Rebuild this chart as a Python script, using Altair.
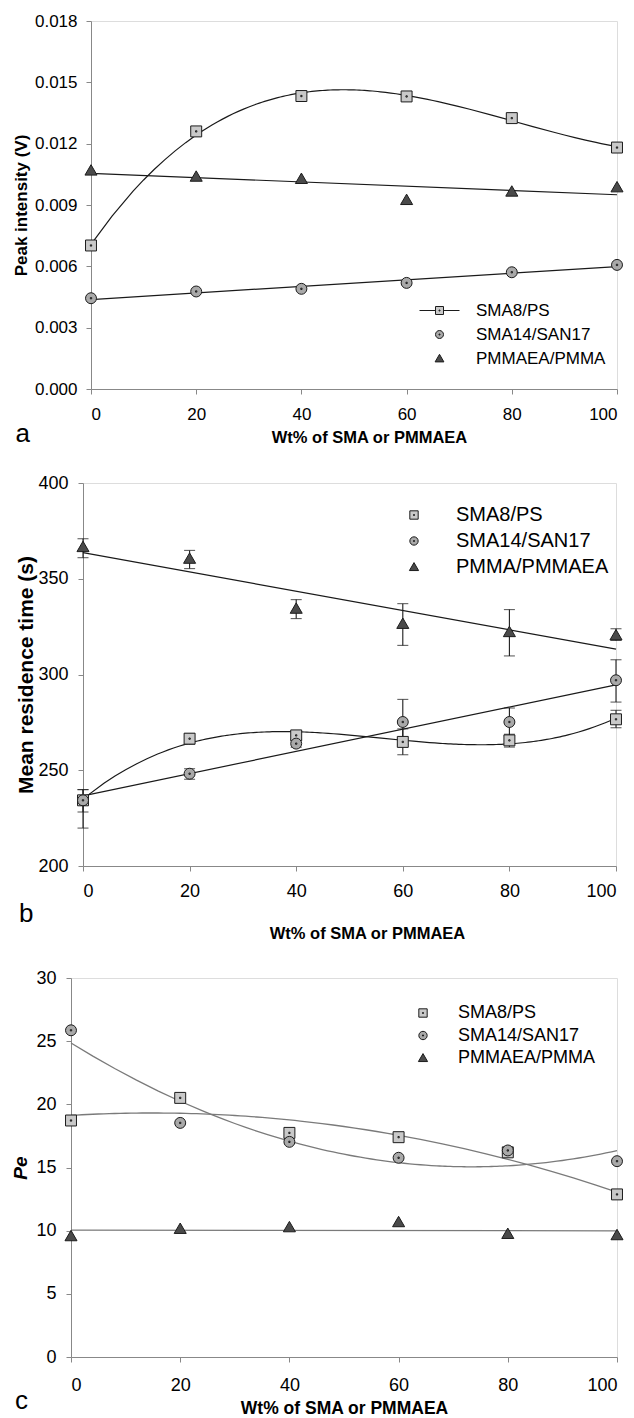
import altair as alt
import pandas as pd

FONT = "Liberation Sans"
EDGE = "#1c1c1c"
FRAME = "#3a3a3a"

# ---------------- data ----------------
wt = [0, 20, 40, 60, 80, 100]
x_ticks = [0, 20, 40, 60, 80, 100]
x_title = "Wt% of SMA or PMMAEA"

names_a = ["SMA8/PS", "SMA14/SAN17", "PMMAEA/PMMA"]
names_b = ["SMA8/PS", "SMA14/SAN17", "PMMA/PMMAEA"]
names_c = ["SMA8/PS", "SMA14/SAN17", "PMMAEA/PMMA"]

# panel a: peak intensity (V)
a_sma8 = [0.00702, 0.01260, 0.01433, 0.01431, 0.01325, 0.01181]
a_sma14 = [0.00444, 0.00477, 0.00490, 0.00519, 0.00571, 0.00607]
a_pmma = [0.01069, 0.01039, 0.01028, 0.00925, 0.00966, 0.00987]
a_yticks = [0.000, 0.003, 0.006, 0.009, 0.012, 0.015, 0.018]

# panel b: mean residence time (s) with error-bar ends
b_sma8 = [234.3, 266.5, 268.2, 264.8, 265.6, 276.6]
b_sma8_lo = [228.2, 263.5, 266.0, 258.1, 262.1, 272.2]
b_sma8_hi = [239.9, 269.1, 270.3, 271.6, 268.8, 281.3]
b_sma14 = [234.3, 248.2, 263.9, 275.2, 275.2, 297.0]
b_sma14_lo = [219.8, 245.3, 262.0, 263.4, 267.9, 285.6]
b_sma14_hi = [239.9, 250.8, 266.0, 287.0, 282.5, 307.7]
b_pmma = [366.6, 360.5, 334.4, 326.5, 322.2, 320.5]
b_pmma_lo = [361.0, 355.3, 329.2, 315.2, 309.7, 317.8]
b_pmma_hi = [370.9, 364.8, 339.1, 337.0, 333.9, 323.9]
b_yticks = [200, 250, 300, 350, 400]

# panel c: Pe
c_sma8 = [18.72, 20.51, 17.74, 17.40, 16.20, 12.87]
c_sma14 = [25.86, 18.53, 17.03, 15.77, 16.35, 15.50]
c_pmma = [9.57, 10.15, 10.28, 10.68, 9.75, 9.65]
c_yticks = [0, 5, 10, 15, 20, 25, 30]

fit_a = [3, 1, 1]
fit_b = [3, 1, 1]
fit_c = [2, 2, 1]

# marker shapes (unit box -1..1), with centre dot
SQ = "M-1,-1H1V1H-1Z M-0.12,-0.12H0.12V0.12H-0.12Z"
CI = "M-1,0A1,1 0 1 1 1,0A1,1 0 1 1 -1,0Z M-0.12,-0.12H0.12V0.12H-0.12Z"
TR = "M0,-1.05L1.1,0.85H-1.1Z"
SQ_LEG = "M-5,0H-1M1,0H5 " + SQ
fills = ["#c9c9c9", "#a9a9a9", "#4a4a4a"]
edges = [EDGE, EDGE, EDGE]


def long(names, series, lo=None, hi=None):
    rows = []
    for k, (n, vals) in enumerate(zip(names, series)):
        for j, (xv, yv) in enumerate(zip(wt, vals)):
            r = {"wt": xv, "val": yv, "series": n}
            if lo is not None:
                r["lo"] = lo[k][j]
                r["hi"] = hi[k][j]
            rows.append(r)
    return pd.DataFrame(rows)


def point_enc(X, Yv, names, shapes, legend):
    return dict(
        x=X, y=Yv,
        shape=alt.Shape("series:N", scale=alt.Scale(domain=names, range=shapes), legend=legend),
        fill=alt.Fill("series:N", scale=alt.Scale(domain=names, range=fills), legend=legend),
        stroke=alt.Stroke("series:N", scale=alt.Scale(domain=names, range=edges), legend=legend),
    )


def build(df, names, orders, line_color, line_w, xaxis, yaxis, ydomain, ytitle,
          legend, leg_shapes, width, height, letter, letter_off, errbars=False):
    X = alt.X("wt:Q", scale=alt.Scale(domain=[0, 100], nice=False, zero=False),
              axis=xaxis, title=x_title)

    def Y(f):
        return alt.Y(f"{f}:Q", scale=alt.Scale(domain=ydomain, nice=False, zero=False),
                     axis=yaxis, title=ytitle)

    base = alt.Chart(df)
    layers = []
    for n, k in zip(names, orders):
        c = base.transform_filter(alt.datum.series == n)
        if k == 1:
            c = c.transform_regression("wt", "val", method="linear", extent=[0, 100])
        else:
            c = c.transform_regression("wt", "val", method="poly", order=k, extent=[0, 100])
        layers.append(c.mark_line(color=line_color, strokeWidth=line_w).encode(x=X, y=Y("val")))
    if errbars:
        layers.append(base.mark_rule(color=EDGE, strokeWidth=1.1).encode(x=X, y=Y("lo"), y2="hi:Q"))
        layers.append(
            base.transform_fold(["lo", "hi"], as_=["end", "v"])
            .mark_tick(orient="horizontal", size=11, thickness=1.1, color=EDGE)
            .encode(x=X, y=Y("v"))
        )
    pt_legend = None if leg_shapes else legend
    layers.append(
        base.mark_point(filled=True, size=120, strokeWidth=1, opacity=1)
        .encode(**point_enc(X, Y("val"), names, [SQ, CI, TR], pt_legend))
    )
    if leg_shapes:
        layers.append(
            base.transform_filter("false")
            .mark_point(filled=True, size=120, strokeWidth=1, opacity=1)
            .encode(**point_enc(X, Y("val"), names, leg_shapes, legend))
        )
    return alt.layer(*layers).resolve_scale(
        shape="independent", fill="independent", stroke="independent"
    ).properties(
        width=width, height=height,
        title=alt.TitleParams(letter, orient="bottom", anchor="start", frame="bounds",
                              baseline="alphabetic", offset=letter_off, fontSize=26,
                              fontWeight="normal", font=FONT, color="black", dx=3),
    )


def leg(x, y, fs, rowpad, lab_off, sym):
    return alt.Legend(orient="none", legendX=x, legendY=y, title=None, labelFontSize=fs,
                      labelFont=FONT, labelColor="black", symbolSize=sym,
                      symbolStrokeWidth=1, rowPadding=rowpad,
                      labelOffset=lab_off, padding=0, symbolOffset=0, labelLimit=400,
                      direction="vertical")


def spacer(w):
    return (
        alt.Chart(pd.DataFrame({"s": [0]}))
        .mark_point(size=0, opacity=0)
        .encode(x=alt.X("s:Q", axis=None), y=alt.Y("s:Q", axis=None))
        .properties(width=w, height=1, view=alt.ViewBackground(stroke="transparent"))
    )


df_a = long(names_a, [a_sma8, a_sma14, a_pmma])
df_b = long(names_b, [b_sma8, b_sma14, b_pmma],
            [b_sma8_lo, b_sma14_lo, b_pmma_lo], [b_sma8_hi, b_sma14_hi, b_pmma_hi])
df_c = long(names_c, [c_sma8, c_sma14, c_pmma])

xa = alt.Axis(values=x_ticks, format="d", tickSize=5, labelPadding=12, labelFontSize=17, grid=False,
              titleFontSize=16.5, titleFontWeight="bold", titlePadding=7, titleX=278)
ya = alt.Axis(values=a_yticks, format=".3f", tickSize=5, labelPadding=9, labelFontSize=17, grid=False,
              titleFontSize=17, titleFontWeight="bold", titlePadding=4)
pa = build(df_a, names_a, fit_a, "#1a1a1a", 1.2, xa, ya, [0, 0.018], "Peak intensity (V)",
           leg(340, 281, 17, 6, 28, 64), [SQ_LEG, CI, TR], 526, 368, "a", -4)

xb = alt.Axis(values=x_ticks, format="d", tickSize=5, labelPadding=11, labelFontSize=18, grid=False,
              titleFontSize=16.5, titleFontWeight="bold", titlePadding=25, titleX=284)
yb = alt.Axis(values=b_yticks, format="d", tickSize=5, labelPadding=10, labelFontSize=18, grid=False,
              titleFontSize=21, titleFontWeight="bold", titlePadding=1)
pb = build(df_b, names_b, fit_b, "#1a1a1a", 1.2, xb, yb, [200, 400], "Mean residence time (s)",
           leg(321, 22, 20, 6, 32, 70), None, 533, 383, "b", -20, errbars=True)

xc = alt.Axis(values=x_ticks, format="d", tickSize=5, labelPadding=14, labelFontSize=18, grid=False,
              titleFontSize=17.5, titleFontWeight="bold", titlePadding=5)
yc = alt.Axis(values=c_yticks, format="d", tickSize=5, labelPadding=10, labelFontSize=18, grid=False,
              titleFontSize=19, titleFontWeight="bold", titleFontStyle="italic", titlePadding=5)
pc = build(df_c, names_c, fit_c, "#7a7a7a", 1.3, xc, yc, [0, 30], "Pe",
           leg(343, 26, 18, 4.5, 26, 70), None, 546, 379, "c", -8)


def row(s, panel):
    return alt.hconcat(spacer(s), panel, spacing=0).resolve_scale(
        x="independent", y="independent")


chart = (
    alt.vconcat(row(4, pa), row(8.5, pb), row(4.5, pc), spacing=26)
    .resolve_scale(shape="independent", fill="independent", stroke="independent",
                   x="independent", y="independent")
    .resolve_legend(shape="independent", fill="independent", stroke="independent")
    .properties(padding={"left": 5, "top": 11, "right": 0, "bottom": 0})
    .configure_axis(labelFont=FONT, titleFont=FONT, domainColor=FRAME, tickColor=FRAME,
                    labelColor="black", titleColor="black", grid=False, domainWidth=1,
                    tickWidth=1, labelOverlap=False, labelFlush=False)
    .configure_view(stroke=FRAME, strokeWidth=1)
    .configure(background="white")
)

chart.save("out.html", embed_options={"renderer": "svg", "actions": False})
